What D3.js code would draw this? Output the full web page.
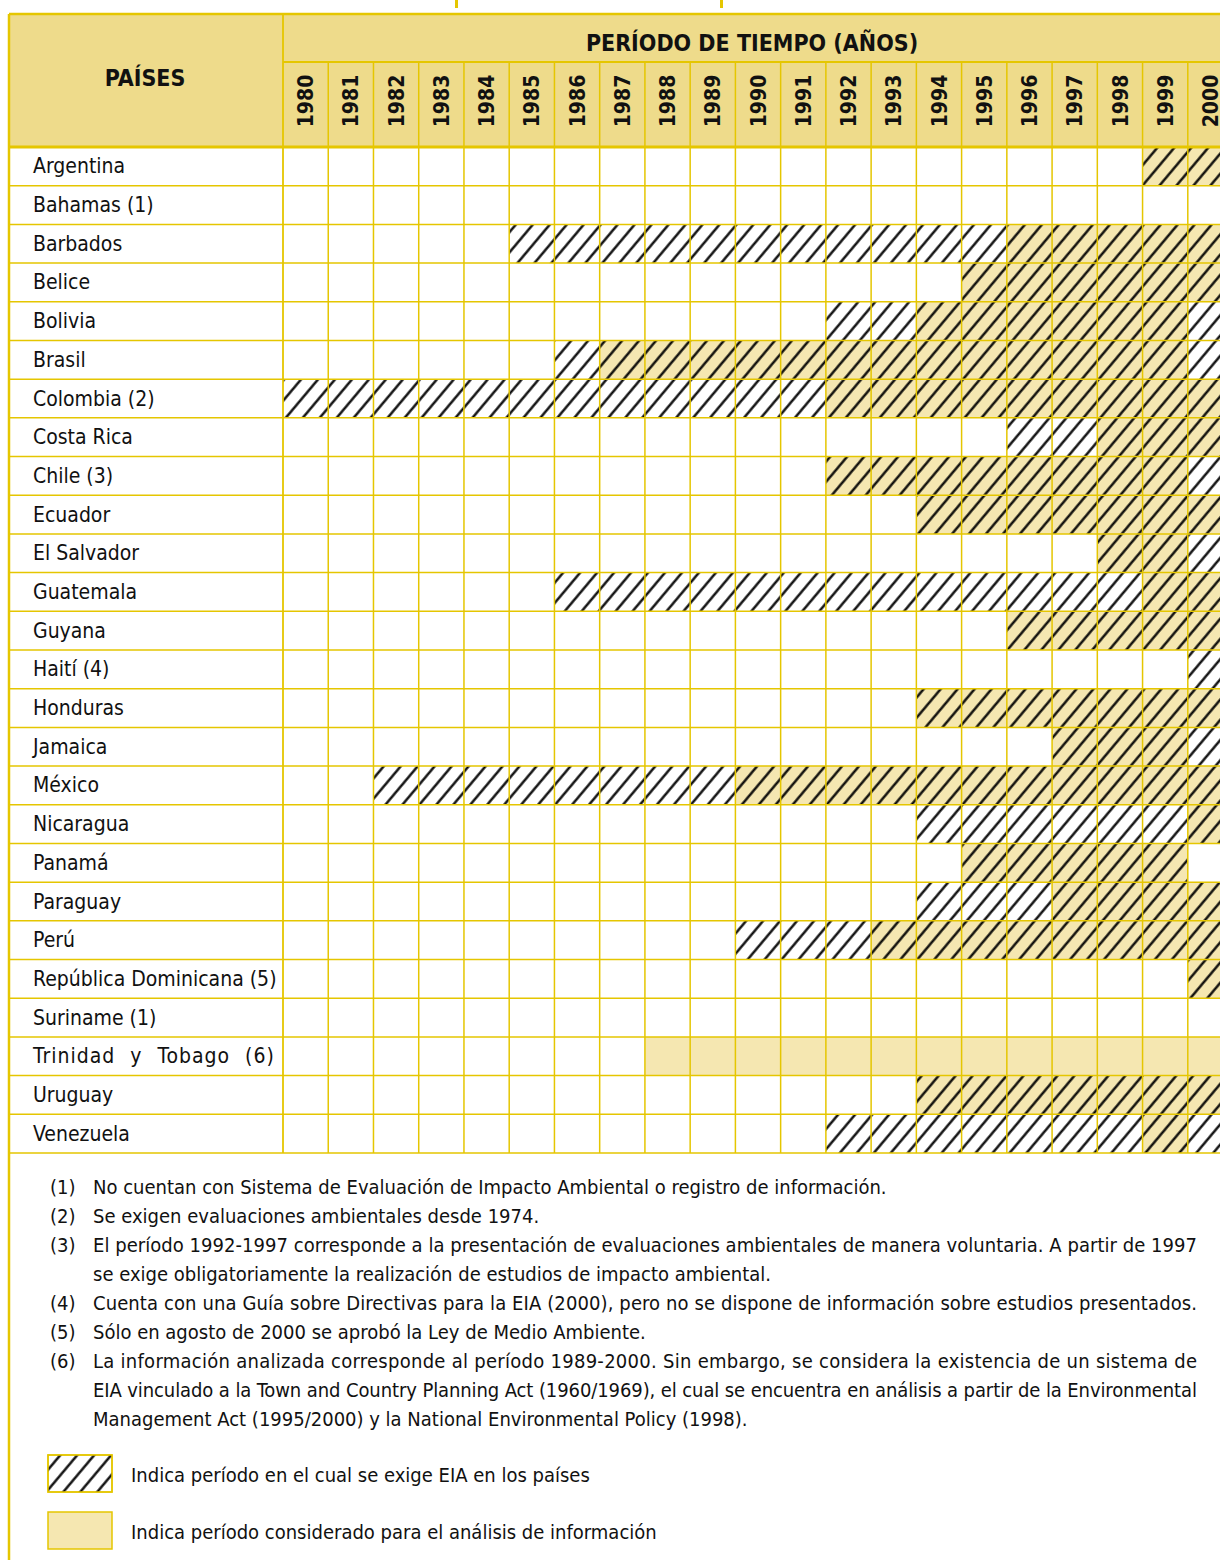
<!doctype html>
<html>
<head>
<meta charset="utf-8">
<title>Periodos de EIA por país</title>
<script src="https://d3js.org/d3.v7.min.js"></script>
<style>
  body { margin: 0; background: #fff; }
  text { font-family: "Liberation Sans Narrow", "Arial Narrow", "DejaVu Sans Condensed", sans-serif; fill: #111; }
</style>
</head>
<body>
<script>
// ---- data ----
var years = [1980, 1981, 1982, 1983, 1984, 1985, 1986, 1987, 1988, 1989, 1990,
             1991, 1992, 1993, 1994, 1995, 1996, 1997, 1998, 1999, 2000];

var countries = ["Argentina", "Bahamas (1)", "Barbados", "Belice", "Bolivia", "Brasil",
  "Colombia (2)", "Costa Rica", "Chile (3)", "Ecuador", "El Salvador", "Guatemala",
  "Guyana", "Haití (4)", "Honduras", "Jamaica", "México", "Nicaragua", "Panamá",
  "Paraguay", "Perú", "República Dominicana (5)", "Suriname (1)", "Trinidad y Tobago (6)",
  "Uruguay", "Venezuela"];

// period in which EIA is required (hatched)
var eiaFrom = [1999, null, 1985, 1995, 1992, 1986, 1980, 1996, 1992, 1994, 1998, 1986, 1996,
               2000, 1994, 1997, 1982, 1994, 1995, 1994, 1990, 2000, null, null, 1994, 1992];
var eiaTo   = [2000, null, 2000, 2000, 2000, 2000, 2000, 2000, 2000, 2000, 2000, 2000, 2000,
               2000, 2000, 2000, 2000, 2000, 1999, 2000, 2000, 2000, null, null, 2000, 2000];

// period considered for the analysis (filled)
var anaFrom = [1999, null, 1996, 1995, 1994, 1987, 1992, 1998, 1992, 1994, 1998, 1999, 1996,
               null, 1994, 1997, 1990, 2000, 1995, 1997, 1993, 2000, null, 1988, 1994, 1999];
var anaTo   = [2000, null, 2000, 2000, 1999, 1999, 2000, 2000, 1999, 2000, 1999, 2000, 2000,
               null, 2000, 1999, 2000, 2000, 1999, 2000, 2000, 2000, null, 2000, 2000, 1999];

var notes = [
  {n: "(1)", t: "No cuentan con Sistema de Evaluación de Impacto Ambiental o registro de información.", j: false},
  {n: "(2)", t: "Se exigen evaluaciones ambientales desde 1974.", j: false},
  {n: "(3)", t: "El período 1992-1997 corresponde a la presentación de evaluaciones ambientales de manera voluntaria. A partir de 1997", j: true},
  {n: "",    t: "se exige obligatoriamente la realización de estudios de impacto ambiental.", j: false},
  {n: "(4)", t: "Cuenta con una Guía sobre Directivas para la EIA (2000), pero no se dispone de información sobre estudios presentados.", j: true},
  {n: "(5)", t: "Sólo en agosto de 2000 se aprobó la Ley de Medio Ambiente.", j: false},
  {n: "(6)", t: "La información analizada corresponde al período 1989-2000. Sin embargo, se considera la existencia de un sistema de", j: true},
  {n: "",    t: "EIA vinculado a la Town and Country Planning Act (1960/1969), el cual se encuentra en análisis a partir de la Environmental", j: true},
  {n: "",    t: "Management Act (1995/2000) y la National Environmental Policy (1998).", j: false}
];

var legendItems = ["Indica período en el cual se exige EIA en los países",
                   "Indica período considerado para el análisis de información"];

// ---- layout ----
var width = 1220, height = 1560;
var gold = "#e5c600", headFill = "#eedb8b", lightFill = "#f5e7b1";
var leftX = 9, tableTop = 14, colStart = 283, headMid = 62, headBottom = 147, tableBottom = 1153;

var svg = d3.select("body").append("svg")
  .attr("width", width).attr("height", height);

var defs = svg.append("defs");
var pat = defs.append("pattern")
  .attr("id", "hatch")
  .attr("patternUnits", "userSpaceOnUse")
  .attr("width", 13).attr("height", 20)
  .attr("patternTransform", "rotate(40)");
pat.append("line")
  .attr("x1", 6.5).attr("x2", 6.5).attr("y1", -2).attr("y2", 22)
  .attr("stroke", "#000").attr("stroke-width", 2.3);

var x = d3.scaleBand().domain(years).range([colStart, colStart + years.length * 45.24]);
var y = d3.scaleBand().domain(countries).range([headBottom, tableBottom]);

// cropped title remnants at the very top
svg.selectAll(".tick-top").data([455, 720]).enter().append("rect")
  .attr("x", function(d){ return d; }).attr("y", 0)
  .attr("width", 3).attr("height", 8).attr("fill", gold);

// header background
svg.append("rect")
  .attr("x", leftX).attr("y", tableTop)
  .attr("width", width - leftX).attr("height", headBottom - tableTop)
  .attr("fill", headFill);

// analysis period fills
var rows = countries.map(function(c, i){
  return {c: c, ef: eiaFrom[i], et: eiaTo[i], af: anaFrom[i], at: anaTo[i]};
});

svg.selectAll(".ana").data(rows.filter(function(d){ return d.af !== null; }))
  .enter().append("rect")
  .attr("x", function(d){ return x(d.af); })
  .attr("width", function(d){ return x(d.at) + x.bandwidth() - x(d.af); })
  .attr("y", function(d){ return y(d.c); })
  .attr("height", y.bandwidth())
  .attr("fill", lightFill);

svg.selectAll(".eia").data(rows.filter(function(d){ return d.ef !== null; }))
  .enter().append("rect")
  .attr("x", function(d){ return x(d.ef); })
  .attr("width", function(d){ return x(d.et) + x.bandwidth() - x(d.ef); })
  .attr("y", function(d){ return y(d.c); })
  .attr("height", y.bandwidth())
  .attr("fill", "url(#hatch)");

// grid
var grid = svg.append("g").attr("stroke", gold).attr("fill", "none");
grid.selectAll(".h").data(countries.slice(1)).enter().append("line")
  .attr("x1", leftX).attr("x2", width)
  .attr("y1", function(d){ return y(d); }).attr("y2", function(d){ return y(d); })
  .attr("stroke-width", 1.5);
grid.append("line").attr("x1", leftX).attr("x2", width)
  .attr("y1", tableBottom).attr("y2", tableBottom).attr("stroke-width", 1.5);
grid.selectAll(".v").data(years.slice(1)).enter().append("line")
  .attr("x1", function(d){ return x(d); }).attr("x2", function(d){ return x(d); })
  .attr("y1", headMid).attr("y2", tableBottom)
  .attr("stroke-width", 1.5);
grid.append("line").attr("x1", colStart).attr("x2", colStart)
  .attr("y1", tableTop).attr("y2", tableBottom).attr("stroke-width", 1.8);
grid.append("line").attr("x1", colStart).attr("x2", width)
  .attr("y1", headMid).attr("y2", headMid).attr("stroke-width", 2);
grid.append("line").attr("x1", leftX).attr("x2", width)
  .attr("y1", headBottom).attr("y2", headBottom).attr("stroke-width", 3);
grid.append("line").attr("x1", leftX).attr("x2", width)
  .attr("y1", tableTop).attr("y2", tableTop).attr("stroke-width", 2.5);
grid.append("line").attr("x1", leftX).attr("x2", leftX)
  .attr("y1", tableTop).attr("y2", height).attr("stroke-width", 2.5);

// header texts
svg.append("text").attr("x", 145).attr("y", 86)
  .attr("text-anchor", "middle").attr("font-weight", "bold").attr("font-size", 23)
  .text("PAÍSES");
svg.append("text").attr("x", 752).attr("y", 51)
  .attr("text-anchor", "middle").attr("font-weight", "bold").attr("font-size", 23)
  .text("PERÍODO DE TIEMPO (AÑOS)");
svg.selectAll(".yr").data(years).enter().append("text")
  .attr("transform", function(d){
    return "translate(" + (x(d) + x.bandwidth() / 2) + "," + 101 + ") rotate(-90)";
  })
  .attr("text-anchor", "middle").attr("dy", "0.36em")
  .attr("font-weight", "bold").attr("font-size", 21)
  .text(function(d){ return d; });

// country labels
svg.selectAll(".lab").data(countries).enter().append("text")
  .attr("x", 33)
  .attr("y", function(d){ return y(d) + y.bandwidth() / 2 + 7; })
  .attr("font-size", 21)
  .attr("word-spacing", function(d){ return d.indexOf("Trinidad") === 0 ? 8 : 0; })
  .attr("letter-spacing", function(d){ return d.indexOf("Trinidad") === 0 ? 1 : 0; })
  .text(function(d){ return d; });

// footnotes
var noteG = svg.append("g");
notes.forEach(function(d, i){
  var yy = 1194 + i * 29;
  if (d.n) noteG.append("text").attr("x", 50).attr("y", yy).attr("font-size", 20).text(d.n);
  var t = noteG.append("text").attr("x", 93).attr("y", yy).attr("font-size", 20).text(d.t);
  if (d.j) t.attr("textLength", 1197 - 93).attr("lengthAdjust", "spacing");
});

// legend
var lg = svg.append("g");
legendItems.forEach(function(s, i){
  var yy = 1455 + i * 57;
  lg.append("rect").attr("x", 48).attr("y", yy).attr("width", 64).attr("height", 37)
    .attr("fill", i === 0 ? "#fff" : lightFill).attr("stroke", gold).attr("stroke-width", 1.5);
  if (i === 0) lg.append("rect").attr("x", 48).attr("y", yy).attr("width", 64).attr("height", 37)
    .attr("fill", "url(#hatch)").attr("stroke", gold).attr("stroke-width", 1.5);
  lg.append("text").attr("x", 131).attr("y", yy + 27).attr("font-size", 20).text(s);
});
</script>
</body>
</html>
